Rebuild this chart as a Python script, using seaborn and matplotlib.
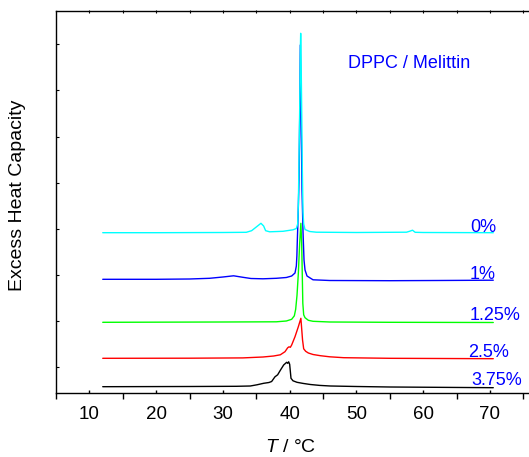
import numpy as np
import pandas as pd
import matplotlib
matplotlib.use("Agg")
import matplotlib.pyplot as plt
import seaborn as sns

# ---------------- data ----------------
concentrations = ["0%", "1%", "1.25%", "2.5%", "3.75%"]
line_colors = ["#00ffff", "#0000ff", "#00ff00", "#ff0000", "#000000"]

t_0 = [12, 20, 30, 33.5, 34.3, 35.0, 35.7, 36.1, 36.4, 37.0, 39.0, 40.5, 41.0,
       41.2, 41.3, 41.4, 41.5, 41.6, 41.65, 41.7, 41.8, 41.9, 42.0, 42.1, 42.3,
       43.0, 44.0, 50.0, 57.5, 58.0, 58.4, 58.8, 60.0, 70.5]
cp_0 = [160.6, 160.6, 160.8, 161.0, 162.6, 166.3, 170.0, 167.3, 162.6, 161.5,
        162.0, 163.5, 164.8, 169.3, 188.3, 233.3, 283.3, 343.3, 360.0, 343.3,
        283.3, 223.3, 181.3, 169.3, 163.8, 161.8, 161.1, 160.8, 161.1, 162.1,
        163.1, 161.0, 160.8, 160.6]

t_1 = [12, 20, 25, 28, 30, 31.6, 33, 34.2, 36, 38, 39.5, 40.3, 40.8, 41.0,
       41.08, 41.15, 41.27, 41.4, 41.5, 41.6, 41.72, 41.85, 42.0, 42.15, 42.3,
       42.6, 43.5, 46, 55, 62, 70.5]
cp_1 = [114.0, 114.0, 114.3, 115.0, 116.3, 117.5, 116.0, 114.8, 114.5, 115.0,
        115.8, 117.3, 120.3, 127.3, 137.3, 153.3, 178.3, 213.3, 273.3, 348.3,
        273.3, 203.3, 161.3, 133.3, 123.3, 117.3, 113.5, 112.8, 112.6, 112.8,
        113.1]

t_125 = [12, 30, 38, 39.5, 40.3, 40.7, 40.9, 41.1, 41.3, 41.5, 41.68, 41.8,
         41.9, 41.97, 42.1, 42.3, 42.8, 43.5, 46, 55, 70.5]
cp_125 = [71.0, 71.3, 71.5, 72.3, 74.0, 77.5, 84.0, 98.0, 120.0, 150.0, 170.0,
          150.0, 115.0, 90.0, 78.5, 75.6, 73.0, 72.0, 71.3, 71.0, 70.8]

t_25 = [12, 25, 33, 36, 37.6, 38.6, 39.3, 39.7, 39.9, 40.1, 40.3, 40.8, 41.3,
        41.68, 41.93, 42.1, 42.4, 42.8, 43.5, 44.6, 46.0, 48.1, 55, 70.5]
cp_25 = [35.0, 35.1, 35.4, 36.3, 37.3, 38.5, 41.6, 45.5, 46.5, 46.0, 48.3, 56.6,
         66.6, 75.0, 53.3, 44.5, 42.0, 40.3, 38.8, 37.6, 36.5, 35.6, 35.0, 34.6]

t_375 = [12, 25, 32, 34.1, 35.1, 36.1, 36.9, 37.3, 37.8, 38.2, 38.6, 39.1,
         39.55, 39.7, 39.85, 40.0, 40.2, 40.5, 41.1, 42.0, 43.1, 44.5, 46.1,
         50.0, 55, 70.5]
cp_375 = [6.6, 6.8, 7.0, 7.3, 8.5, 10.0, 10.8, 11.8, 16.5, 18.5, 23.0, 28.3,
          31.0, 30.0, 31.5, 29.0, 15.0, 12.5, 11.0, 9.9, 8.8, 7.9, 7.3, 6.8,
          6.3, 5.6]

temps = [t_0, t_1, t_125, t_25, t_375]
cps = [cp_0, cp_1, cp_125, cp_25, cp_375]

xtick_values = [10, 20, 30, 40, 50, 60, 70]
xtick_labels = ["10", "20", "30", "40", "50", "60", "70"]
title_text = "DPPC / Melittin"
xlabel_text = r"$T$ / °C"
ylabel_text = "Excess Heat Capacity"

# ---------------- build table ----------------
frames = [pd.DataFrame({"T": t, "Cp": c, "conc": n})
          for n, t, c in zip(concentrations, temps, cps)]
df = pd.concat(frames, ignore_index=True)

# ---------------- style ----------------
sns.set_theme(style="white")
plt.rcParams["font.family"] = ["Liberation Sans", "DejaVu Sans"]
plt.rcParams["mathtext.fontset"] = "custom"
plt.rcParams["mathtext.it"] = "Liberation Sans:italic"
plt.rcParams["mathtext.rm"] = "Liberation Sans"

W, H = 529, 457
fig = plt.figure(figsize=(W / 100, H / 100), dpi=100)
ax = fig.add_axes([56 / W, (H - 393.3) / H, 474 / W, 382.8 / H])

sns.lineplot(data=df, x="T", y="Cp", hue="conc",
             hue_order=concentrations[::-1],
             palette=dict(zip(concentrations, line_colors)),
             estimator=None, sort=False, linewidth=1.0, legend=False, ax=ax)

ax.set_xlim(5, 76)
ax.set_ylim(0, 382.8)
ax.set_xlabel("")
ax.set_ylabel("")

for side in ["left", "bottom", "top"]:
    ax.spines[side].set_color("black")
    ax.spines[side].set_linewidth(1.0)
ax.spines["right"].set_visible(False)

# bottom axis: long outward ticks at 5,15,...; short inward labelled ticks at 10,20,...
ax.set_xticks(np.arange(5, 76, 10))
ax.set_xticklabels([])
ax.set_xticks(xtick_values, labels=xtick_labels, minor=True)
ax.tick_params(axis="x", which="major", direction="out", length=4.5, width=1.0,
               color="black", bottom=True, top=False)
ax.tick_params(axis="x", which="minor", direction="in", length=2.5, width=1.0,
               color="black", bottom=True, top=False, labelsize=13.5,
               labelcolor="black", pad=9)

# top axis ticks
sec = ax.secondary_xaxis("top")
sec.set_xticks(np.arange(10, 76, 5))
sec.set_xticklabels([])
sec.tick_params(direction="in", length=2.5, width=0.8, color="black")
sec.spines["top"].set_visible(False)

# left ticks
ax.set_yticks(26.3 + 46.1 * np.arange(8))
ax.tick_params(axis="y", which="major", direction="in", length=2.5, width=0.8,
               color="black", left=True, labelleft=False)

# curve labels
label_x = [67.0, 67.0, 67.0, 66.8, 67.2]
label_y = [161.6, 114.0, 73.3, 36.6, 8.3]
for n, lx, ly in zip(concentrations, label_x, label_y):
    ax.text(lx, ly, n, color="#0000ff", fontsize=13, ha="left", va="baseline")

ax.text(48.8, 325.6, title_text, color="#0000ff", fontsize=13,
        ha="left", va="baseline")

fig.text(291 / W, (H - 452) / H, xlabel_text, ha="center", va="baseline",
         fontsize=14, color="black")
fig.text(18 / W, 1 - 195 / H, ylabel_text, ha="center", va="center",
         rotation=90, fontsize=14, color="black")

fig.savefig("out.png", dpi=100)
